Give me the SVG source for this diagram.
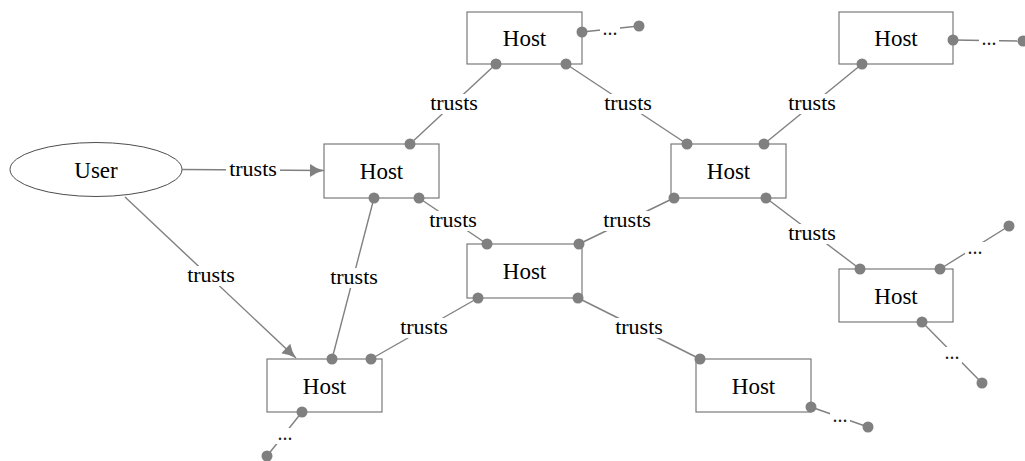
<svg xmlns="http://www.w3.org/2000/svg" width="1025" height="461" viewBox="0 0 1025 461">
  <defs>
    <style>
      .box { fill: #ffffff; stroke: #6e6e6e; stroke-width: 1.1; }
      .user { fill: #ffffff; stroke: #4d4d4d; stroke-width: 1; }
      .name { font-family: "Liberation Serif", "DejaVu Serif", serif; font-size: 23px; fill: #000; text-anchor: middle; }
      .edge { stroke: #808080; stroke-width: 1.4; fill: none; }
      .dot circle { fill: #808080; r: 5.5; }
      .lbl { font-family: "Liberation Serif", "DejaVu Serif", serif; font-size: 22px; fill: #000; text-anchor: middle; }
      .ell { font-family: "Liberation Serif", "DejaVu Serif", serif; font-size: 20px; fill: #222; text-anchor: middle; }
      .bg { fill: #ffffff; }
    </style>
    <marker id="arrow" markerUnits="userSpaceOnUse" viewBox="-1 -8 17 16" refX="14" refY="0" markerWidth="17" markerHeight="16" orient="auto">
      <path d="M0,-6.5 Q6,-2 14,0 Q6,2 0,6.5 Z" fill="#808080"/>
    </marker>
  </defs>

  <!-- nodes -->
  <g id="user">
    <ellipse class="user" cx="96" cy="169.5" rx="86" ry="27"/>
    <text class="name" x="96" y="178">User</text>
  </g>
  <g id="host-a">
    <rect class="box" x="324" y="144" width="115" height="54"/>
    <text class="name" x="381.5" y="179">Host</text>
  </g>
  <g id="host-b">
    <rect class="box" x="467" y="12" width="115" height="52"/>
    <text class="name" x="524.5" y="46">Host</text>
  </g>
  <g id="host-c">
    <rect class="box" x="839" y="12" width="114" height="52"/>
    <text class="name" x="896" y="46">Host</text>
  </g>
  <g id="host-d">
    <rect class="box" x="467" y="244" width="115" height="54"/>
    <text class="name" x="524.5" y="279">Host</text>
  </g>
  <g id="host-e">
    <rect class="box" x="671" y="144" width="115" height="54"/>
    <text class="name" x="728.5" y="179">Host</text>
  </g>
  <g id="host-f">
    <rect class="box" x="267" y="359" width="115" height="53"/>
    <text class="name" x="324.5" y="394">Host</text>
  </g>
  <g id="host-g">
    <rect class="box" x="696" y="359" width="115" height="53"/>
    <text class="name" x="753.5" y="394">Host</text>
  </g>
  <g id="host-h">
    <rect class="box" x="839" y="269" width="114" height="53"/>
    <text class="name" x="896" y="304">Host</text>
  </g>

  <!-- connectors -->
  <g id="connectors">
    <!-- trust edges -->
    <line class="edge" x1="182" y1="169.5" x2="324" y2="170.5" marker-end="url(#arrow)"/>
    <line class="edge" x1="125" y1="197" x2="296" y2="358" marker-end="url(#arrow)"/>
    <line class="edge" x1="374" y1="198" x2="332" y2="359"/>
    <line class="edge" x1="410" y1="144" x2="496" y2="64"/>
    <line class="edge" x1="566" y1="64" x2="687" y2="144"/>
    <line class="edge" x1="764" y1="144" x2="862" y2="64"/>
    <line class="edge" x1="419" y1="198" x2="487" y2="244"/>
    <line class="edge" x1="579" y1="244" x2="674" y2="198"/>
    <line class="edge" x1="766" y1="198" x2="860" y2="269"/>
    <line class="edge" x1="478" y1="298" x2="371" y2="359"/>
    <line class="edge" x1="578" y1="298" x2="700" y2="359"/>

    <!-- open-ended edges -->
    <line class="edge" x1="582" y1="32" x2="639" y2="26"/>
    <line class="edge" x1="953" y1="40" x2="1023" y2="41"/>
    <line class="edge" x1="940" y1="269" x2="1009" y2="226"/>
    <line class="edge" x1="922" y1="322" x2="982" y2="383"/>
    <line class="edge" x1="811" y1="407" x2="868" y2="427"/>
    <line class="edge" x1="302" y1="412" x2="267" y2="456"/>

    <!-- endpoint dots -->
    <g class="dot">
      <circle cx="374" cy="198" r="5.5"/>
      <circle cx="332" cy="359" r="5.5"/>
      <circle cx="410" cy="144" r="5.5"/>
      <circle cx="496" cy="64" r="5.5"/>
      <circle cx="566" cy="64" r="5.5"/>
      <circle cx="687" cy="144" r="5.5"/>
      <circle cx="764" cy="144" r="5.5"/>
      <circle cx="862" cy="64" r="5.5"/>
      <circle cx="419" cy="198" r="5.5"/>
      <circle cx="487" cy="244" r="5.5"/>
      <circle cx="579" cy="244" r="5.5"/>
      <circle cx="674" cy="198" r="5.5"/>
      <circle cx="766" cy="198" r="5.5"/>
      <circle cx="860" cy="269" r="5.5"/>
      <circle cx="478" cy="298" r="5.5"/>
      <circle cx="371" cy="359" r="5.5"/>
      <circle cx="578" cy="298" r="5.5"/>
      <circle cx="700" cy="359" r="5.5"/>
      <circle cx="582" cy="32" r="5.5"/>
      <circle cx="639" cy="26" r="5.5"/>
      <circle cx="953" cy="40" r="5.5"/>
      <circle cx="1023" cy="41" r="5.5"/>
      <circle cx="940" cy="269" r="5.5"/>
      <circle cx="1009" cy="226" r="5.5"/>
      <circle cx="922" cy="322" r="5.5"/>
      <circle cx="982" cy="383" r="5.5"/>
      <circle cx="811" cy="407" r="5.5"/>
      <circle cx="868" cy="427" r="5.5"/>
      <circle cx="302" cy="412" r="5.5"/>
      <circle cx="267" cy="456" r="5.5"/>
    </g>

    <!-- edge labels -->
    <g>
      <rect class="bg" x="226" y="160" width="54" height="20"/>
      <text class="lbl" x="253" y="176">trusts</text>
      <rect class="bg" x="184" y="266" width="54" height="20"/>
      <text class="lbl" x="211" y="282">trusts</text>
      <rect class="bg" x="327" y="268" width="54" height="20"/>
      <text class="lbl" x="354" y="284">trusts</text>
      <rect class="bg" x="427" y="94" width="54" height="20"/>
      <text class="lbl" x="454" y="110">trusts</text>
      <rect class="bg" x="601" y="94" width="54" height="20"/>
      <text class="lbl" x="628" y="110">trusts</text>
      <rect class="bg" x="785" y="94" width="54" height="20"/>
      <text class="lbl" x="812" y="110">trusts</text>
      <rect class="bg" x="426" y="211" width="54" height="20"/>
      <text class="lbl" x="453" y="227">trusts</text>
      <rect class="bg" x="600" y="211" width="54" height="20"/>
      <text class="lbl" x="627" y="227">trusts</text>
      <rect class="bg" x="785" y="224" width="54" height="20"/>
      <text class="lbl" x="812" y="240">trusts</text>
      <rect class="bg" x="397" y="318" width="54" height="20"/>
      <text class="lbl" x="424" y="334">trusts</text>
      <rect class="bg" x="612" y="318" width="54" height="20"/>
      <text class="lbl" x="639" y="334">trusts</text>
    </g>

    <!-- ellipsis labels -->
    <g>
      <rect class="bg" x="600" y="22" width="20" height="16"/>
      <text class="ell" x="610" y="35">...</text>
      <rect class="bg" x="979" y="33" width="20" height="16"/>
      <text class="ell" x="989" y="45">...</text>
      <rect class="bg" x="965" y="242" width="20" height="16"/>
      <text class="ell" x="975" y="254">...</text>
      <rect class="bg" x="942" y="347" width="20" height="16"/>
      <text class="ell" x="952" y="359">...</text>
      <rect class="bg" x="830" y="410" width="20" height="16"/>
      <text class="ell" x="840" y="422">...</text>
      <rect class="bg" x="275" y="428" width="20" height="16"/>
      <text class="ell" x="285" y="440">...</text>
    </g>
  </g>
</svg>
